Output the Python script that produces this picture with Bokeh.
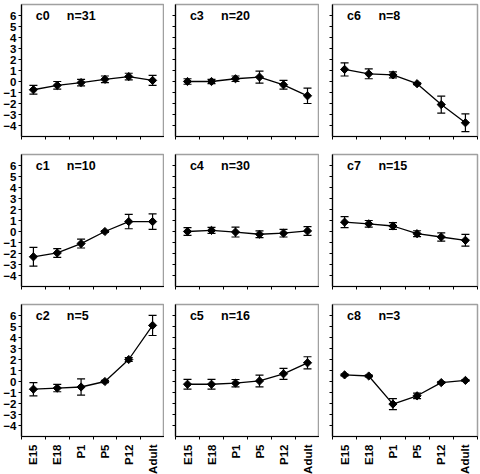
import numpy as np
from bokeh.plotting import figure
from bokeh.models import Range1d, FixedTicker, Whisker, TeeHead, ColumnDataSource, Label, CustomJSTickFormatter
from bokeh.layouts import column, row
from bokeh.embed import file_html
from bokeh.resources import INLINE

stages = ["E15", "E18", "P1", "P5", "P12", "Adult"]
y_tick_values = [-4, -3, -2, -1, 0, 1, 2, 3, 4, 5, 6]

cluster_names = ["c0", "c1", "c2", "c3", "c4", "c5", "c6", "c7", "c8"]
cluster_n = [31, 10, 5, 20, 30, 16, 8, 15, 3]

c0_mean = [-0.75, -0.35, -0.1, 0.2, 0.45, 0.1]
c0_err = [0.4, 0.35, 0.3, 0.3, 0.3, 0.45]
c1_mean = [-2.3, -1.95, -1.1, 0.0, 0.9, 0.9]
c1_err = [0.85, 0.4, 0.4, 0.08, 0.65, 0.7]
c2_mean = [-0.7, -0.6, -0.5, 0.0, 2.0, 5.1]
c2_err = [0.6, 0.33, 0.73, 0.1, 0.18, 0.92]
c3_mean = [0.0, 0.0, 0.25, 0.4, -0.3, -1.3]
c3_err = [0.25, 0.2, 0.25, 0.55, 0.4, 0.7]
c4_mean = [0.0, 0.1, -0.05, -0.25, -0.15, 0.05]
c4_err = [0.35, 0.27, 0.45, 0.3, 0.35, 0.4]
c5_mean = [-0.25, -0.25, -0.15, 0.05, 0.7, 1.7]
c5_err = [0.45, 0.45, 0.33, 0.53, 0.5, 0.55]
c6_mean = [1.1, 0.7, 0.6, -0.2, -2.1, -3.75]
c6_err = [0.6, 0.45, 0.27, 0.08, 0.77, 0.8]
c7_mean = [0.85, 0.7, 0.5, -0.2, -0.5, -0.8]
c7_err = [0.5, 0.3, 0.3, 0.27, 0.38, 0.53]
c8_mean = [0.6, 0.5, -2.05, -1.3, -0.1, 0.1]
c8_err = [0.08, 0.08, 0.5, 0.25, 0.08, 0.08]

means = [c0_mean, c1_mean, c2_mean, c3_mean, c4_mean, c5_mean, c6_mean, c7_mean, c8_mean]
errs = [c0_err, c1_err, c2_err, c3_err, c4_err, c5_err, c6_err, c7_err, c8_err]

FONT = "Liberation Sans"
frame_w = [143, 144, 145]
border_l = [21, 11, 13]
border_r = [0, 0, 2]

blank = CustomJSTickFormatter(code="return '';")


def make_panel(k, r, c):
    last_row = (r == 2)
    p = figure(frame_width=frame_w[c], frame_height=132,
               x_range=Range1d(-0.5, 5.5), y_range=Range1d(-5, 7),
               output_backend="svg", toolbar_location=None,
               min_border_left=border_l[c], min_border_right=border_r[c],
               min_border_top=4, min_border_bottom=37 if last_row else 14)
    p.background_fill_color = "white"
    p.border_fill_color = "white"
    p.outline_line_color = "#a0a0a0"
    p.outline_line_width = 1.5
    p.xgrid.visible = False
    p.ygrid.visible = False

    xs = list(range(len(stages)))
    m = means[k]
    e = errs[k]
    src = ColumnDataSource(dict(x=xs, y=m,
                                lo=[a - b for a, b in zip(m, e)],
                                hi=[a + b for a, b in zip(m, e)]))
    w = Whisker(source=src, base="x", lower="lo", upper="hi",
                line_color="black", line_width=1.2,
                upper_head=TeeHead(size=8, line_color="black", line_width=1.2),
                lower_head=TeeHead(size=8, line_color="black", line_width=1.2))
    p.add_layout(w)
    p.line("x", "y", source=src, line_color="black", line_width=1.3)
    p.scatter("x", "y", source=src, marker="square", angle=np.pi / 4,
              size=5.8, fill_color="black", line_color="black")

    xa = p.xaxis[0]
    xa.ticker = FixedTicker(ticks=xs, minor_ticks=[v - 0.5 for v in xs] + [len(xs) - 0.5])
    xa.major_tick_in = 0
    xa.major_tick_out = 0
    xa.minor_tick_in = 0
    xa.minor_tick_out = 3
    xa.axis_line_color = "black"
    xa.axis_line_width = 1.2
    xa.minor_tick_line_color = "black"
    if last_row:
        xa.major_label_overrides = {i: s for i, s in enumerate(stages)}
        xa.major_label_orientation = np.pi / 2
        xa.major_label_text_font = FONT
        xa.major_label_text_font_style = "bold"
        xa.major_label_text_font_size = "11.5px"
        xa.major_label_text_color = "black"
        xa.major_label_standoff = 5
    else:
        xa.formatter = blank
        xa.major_label_standoff = 0

    ya = p.yaxis[0]
    ya.ticker = FixedTicker(ticks=y_tick_values, minor_ticks=[])
    ya.major_tick_in = 0
    ya.major_tick_out = 3
    ya.axis_line_color = "black"
    ya.axis_line_width = 1.2
    ya.major_tick_line_color = "black"
    if c == 0:
        ya.major_label_text_font = FONT
        ya.major_label_text_font_style = "bold"
        ya.major_label_text_font_size = "11.5px"
        ya.major_label_text_color = "black"
        ya.major_label_standoff = 2
    else:
        ya.formatter = blank
        ya.major_label_standoff = 0

    p.add_layout(Label(x=0.1, y=6.0, text=cluster_names[k], text_font=FONT,
                       text_font_style="bold", text_font_size="12.5px",
                       text_baseline="middle", text_align="left", text_color="black"))
    p.add_layout(Label(x=1.4, y=6.0, text="n=%d" % cluster_n[k], text_font=FONT,
                       text_font_style="bold", text_font_size="12.5px",
                       text_baseline="middle", text_align="left", text_color="black"))
    return p


rows = []
for r in range(3):
    rows.append(row([make_panel(c * 3 + r, r, c) for c in range(3)], spacing=0))
layout = column(rows, spacing=0)

open("out.html", "w").write(file_html(layout, INLINE))
